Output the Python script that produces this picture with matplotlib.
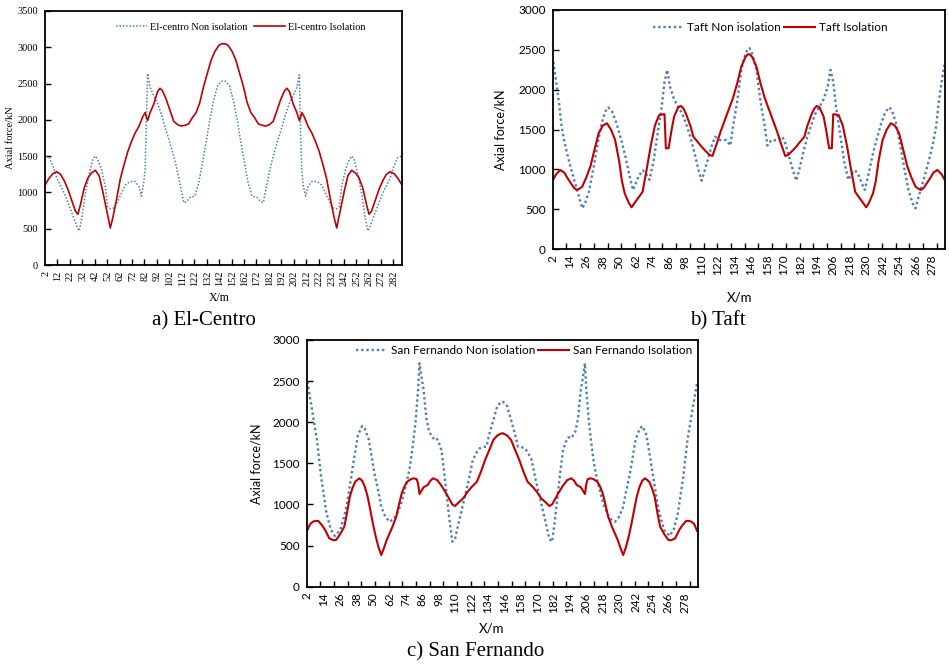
import matplotlib
matplotlib.use("Agg")
import matplotlib.pyplot as plt
from matplotlib.ticker import FixedLocator

BLUE = "#4a7ebb"
RED = "#c00000"

# ---- El-Centro (axial force, kN, along X in m) ----
el_non_x = [2, 5, 8, 11, 14, 17, 20, 24, 27, 29, 31, 34, 37, 40, 42, 44, 47, 50, 52, 54,
            57, 60, 63, 66, 69, 72, 74, 77, 79, 81, 82, 83, 84, 86, 89, 92, 95, 98, 101, 104,
            107, 110, 113, 115, 118, 122, 125, 128, 131, 134, 137, 140, 143, 145,
            147, 150, 153, 156, 159, 162, 165, 168, 172, 175, 177, 180, 183, 186, 189, 192,
            195, 198, 201, 204, 206, 207, 208, 209, 211, 213, 216, 218, 221, 224, 227, 230,
            233, 236, 238, 240, 243, 246, 248, 250, 253, 256, 259, 261, 263, 266, 270, 273,
            276, 279, 282, 285, 288]
el_non_y = [1500, 1480, 1360, 1200, 1090, 990, 860, 680, 540, 470, 640, 990, 1250, 1460, 1500, 1450, 1310, 1080, 800, 775,
            785, 880, 990, 1100, 1140, 1155, 1150, 1080, 950, 1150, 1310, 2000, 2640, 2450, 2330, 2230, 2080, 1900, 1740, 1560,
            1370, 1120, 860, 870, 930, 950, 1120, 1400, 1690, 2000, 2260, 2460, 2530, 2535,
            2530, 2460, 2260, 2000, 1690, 1400, 1120, 950, 930, 870, 860, 1120, 1370, 1560, 1740, 1900,
            2080, 2230, 2330, 2450, 2620, 1800, 1310, 1100, 950, 1080, 1150, 1155, 1140, 1100, 990, 880,
            785, 775, 800, 1080, 1310, 1450, 1500, 1460, 1250, 990, 640, 470, 540, 680, 860, 990,
            1090, 1200, 1360, 1480, 1500]

el_iso_x = [2, 5, 8, 11, 14, 17, 20, 23, 26, 28, 30, 33, 36, 39, 42, 45, 48, 51, 54, 56,
            59, 62, 65, 68, 71, 74, 77, 80, 82, 83, 84, 86, 89, 92, 94, 96, 99, 102, 105, 108,
            111, 114, 117, 120, 123, 126, 129, 132, 135, 138, 141, 143, 145,
            147, 149, 152, 155, 158, 161, 164, 167, 170, 173, 176, 179, 182, 185, 188, 191,
            194, 196, 198, 201, 204, 206, 207, 208, 210, 213, 216, 219, 222, 225, 228, 231,
            234, 236, 239, 242, 245, 248, 251, 254, 257, 260, 262, 264, 267, 270, 273, 276,
            279, 282, 285, 288]
el_iso_y = [1116, 1200, 1260, 1286, 1250, 1160, 1040, 890, 740, 700, 830, 1060, 1200, 1270, 1305, 1230, 1010, 760, 510, 650,
            900, 1180, 1380, 1560, 1700, 1820, 1910, 2040, 2100, 2040, 1990, 2100, 2220, 2390, 2435, 2400, 2280, 2130, 1980, 1935,
            1915, 1925, 1945, 2030, 2100, 2240, 2460, 2640, 2820, 2940, 3020, 3045, 3048,
            3045, 3020, 2940, 2820, 2640, 2460, 2240, 2100, 2030, 1945, 1925, 1915, 1935, 1980, 2130, 2280,
            2400, 2435, 2390, 2220, 2100, 1990, 2040, 2100, 2040, 1910, 1820, 1700, 1560, 1380, 1180, 900,
            650, 510, 760, 1010, 1230, 1305, 1270, 1200, 1060, 830, 700, 740, 890, 1040, 1160, 1250,
            1286, 1260, 1200, 1116]

# ---- Taft ----
taft_non_x = [2, 4, 6, 8, 10, 12, 15, 18, 21, 23, 25, 28, 31, 34, 37, 40, 42, 45, 48, 51,
              54, 57, 60, 62, 64, 67, 69, 72, 75, 78, 81, 83, 85, 87, 90, 93, 96, 99, 102, 105,
              108, 110, 112, 115, 118, 120, 123, 126, 128, 131, 133, 136, 139, 142, 144,
              145, 147, 150, 153, 156, 158, 161, 163, 166, 169, 171, 174, 177, 179, 181, 184,
              187, 190, 193, 196, 199, 202, 204, 206, 208, 211, 214, 217, 220, 222, 225, 227,
              229, 232, 235, 238, 241, 244, 247, 249, 252, 255, 258, 261, 264, 266, 268, 271,
              274, 277, 279, 281, 283, 285, 287]
taft_non_y = [2350, 2100, 1850, 1540, 1350, 1200, 1000, 820, 640, 513, 570, 730, 1000, 1290, 1570, 1730, 1780, 1720, 1580, 1400,
              1200, 960, 743, 820, 910, 990, 960, 870, 1100, 1450, 1790, 2100, 2249, 2039, 1880, 1788, 1700, 1560, 1400, 1200,
              980, 860, 970, 1150, 1330, 1410, 1370, 1365, 1370, 1300, 1550, 1850, 2250, 2450, 2521,
              2521, 2450, 2250, 1850, 1550, 1300, 1370, 1365, 1370, 1410, 1330, 1150, 970, 860, 980, 1200,
              1400, 1560, 1700, 1788, 1880, 2039, 2249, 2100, 1790, 1450, 1100, 870, 960, 990, 910, 820,
              743, 960, 1200, 1400, 1580, 1720, 1780, 1730, 1570, 1290, 1000, 730, 570, 513, 640, 820,
              1000, 1200, 1350, 1540, 1850, 2100, 2310]

taft_iso_x = [2, 4, 7, 10, 12, 14, 17, 19, 21, 23, 26, 29, 32, 35, 38, 41, 44, 47, 50, 52,
              54, 57, 59, 62, 65, 67, 70, 73, 76, 79, 82, 83, 84, 86, 88, 90, 93, 95, 97, 99,
              102, 104, 107, 110, 113, 116, 118, 121, 124, 127, 130, 133, 136, 139, 142, 144,
              145, 147, 150, 153, 156, 159, 162, 165, 168, 171, 173, 176, 179, 182, 185, 187,
              190, 192, 194, 196, 199, 201, 203, 205, 206, 207, 210, 213, 216, 219, 222, 224,
              227, 230, 232, 235, 237, 239, 242, 245, 248, 251, 254, 257, 260, 263, 266, 268,
              270, 272, 275, 277, 279, 282, 285, 287]
taft_iso_y = [877, 940, 994, 960, 900, 847, 770, 743, 760, 784, 900, 1040, 1250, 1454, 1550, 1580, 1500, 1370, 1100, 850,
              700, 580, 526, 600, 670, 720, 1000, 1300, 1550, 1680, 1693, 1693, 1266, 1266, 1480, 1663, 1780, 1797, 1760, 1684,
              1540, 1412, 1350, 1286, 1230, 1180, 1170, 1320, 1480, 1620, 1760, 1900, 2080, 2290, 2410, 2446,
              2446, 2410, 2290, 2080, 1900, 1760, 1620, 1480, 1320, 1170, 1180, 1230, 1286, 1350, 1412, 1540,
              1684, 1760, 1797, 1780, 1663, 1480, 1266, 1266, 1693, 1693, 1680, 1550, 1300, 1000, 720, 670,
              600, 526, 580, 700, 850, 1100, 1370, 1500, 1580, 1550, 1454, 1250, 1040, 900, 784, 760,
              743, 770, 847, 900, 960, 994, 940, 877]

# ---- San Fernando ----
sf_non_x = [2, 5, 9, 12, 16, 19, 22, 26, 29, 31, 34, 36, 39, 42, 44, 47, 51, 54, 56, 59,
            62, 65, 67, 70, 72, 75, 77, 79, 81, 83, 84, 85, 87, 89, 91, 94, 96, 98, 100, 102,
            104, 106, 108, 110, 112, 114, 116, 120, 123, 126, 128, 131, 133, 135, 138, 141, 144,
            145, 148, 151, 154, 156, 158, 161, 163, 166, 169, 173, 175, 177, 179, 181, 183,
            185, 187, 189, 191, 193, 195, 198, 200, 202, 204, 205, 206, 208, 210, 212, 214,
            217, 219, 222, 224, 227, 230, 233, 235, 238, 242, 245, 247, 250, 253, 255, 258,
            260, 263, 267, 270, 273, 277, 280, 284, 287]
sf_non_y = [2493, 2189, 1784, 1338, 893, 700, 617, 689, 860, 1014, 1330, 1541, 1845, 1954, 1920, 1784, 1379, 1150, 973, 850,
            790, 820, 872, 980, 1094, 1300, 1459, 1700, 1987, 2400, 2717, 2600, 2392, 2050, 1885, 1805, 1817, 1760, 1662, 1400,
            1100, 800, 547, 580, 730, 870, 1014, 1297, 1541, 1640, 1683, 1700, 1702, 1850, 2027, 2200, 2250,
            2250, 2200, 2027, 1850, 1702, 1700, 1683, 1640, 1541, 1297, 1014, 870, 730, 580, 547, 800,
            1100, 1400, 1662, 1760, 1817, 1805, 1885, 2050, 2392, 2600, 2717, 2400, 1987, 1700, 1459, 1300,
            1094, 980, 872, 820, 790, 850, 973, 1150, 1379, 1784, 1920, 1954, 1845, 1541, 1330, 1014,
            860, 689, 617, 700, 893, 1338, 1784, 2189, 2473]

sf_iso_x = [2, 4, 6, 8, 10, 13, 15, 18, 21, 23, 26, 29, 31, 33, 35, 37, 40, 42, 44, 46,
            48, 50, 52, 54, 56, 58, 60, 64, 67, 69, 71, 73, 75, 78, 80, 82, 83, 84, 87, 90,
            92, 94, 97, 100, 103, 106, 108, 110, 113, 116, 119, 122, 126, 129, 132, 135, 138, 141, 144,
            145, 148, 151, 154, 157, 160, 163, 167, 170, 173, 176, 179, 181, 183, 186, 189,
            192, 195, 197, 199, 202, 205, 206, 207, 209, 211, 214, 216, 218, 220, 222, 225,
            229, 231, 233, 235, 237, 239, 241, 243, 245, 247, 249, 252, 254, 256, 258, 260,
            263, 266, 268, 271, 274, 276, 279, 281, 283, 285, 287]
sf_iso_y = [689, 760, 790, 800, 799, 740, 689, 588, 565, 568, 640, 730, 900, 1094, 1200, 1277, 1318, 1290, 1216, 1100,
            933, 760, 608, 480, 385, 470, 568, 720, 851, 1000, 1136, 1220, 1277, 1310, 1318, 1306, 1250, 1127, 1209, 1237,
            1290, 1318, 1295, 1230, 1150, 1060, 1000, 981, 1030, 1075, 1150, 1210, 1277, 1400, 1541, 1660, 1784, 1840, 1865,
            1865, 1840, 1784, 1660, 1541, 1400, 1277, 1210, 1150, 1075, 1030, 981, 1000, 1060, 1150, 1230,
            1295, 1318, 1290, 1237, 1209, 1127, 1250, 1306, 1318, 1310, 1277, 1220, 1136, 1000, 851, 720,
            568, 470, 385, 480, 608, 760, 933, 1100, 1216, 1290, 1318, 1277, 1200, 1094, 900, 730,
            640, 568, 565, 588, 689, 740, 799, 800, 790, 760, 680]

SERIF = "Liberation Serif"
SANS = "Lato"


def draw_panel(ax, x_non, y_non, x_iso, y_iso, names, xmax, ymax, label_step,
               family, fs, lw, leg_pos, legend_kw):
    ax.plot(x_non, y_non, color=BLUE, ls=(0, (1, 1.2)), lw=lw[0], label=names[0])
    ax.plot(x_iso, y_iso, color=RED, lw=lw[1], label=names[1])
    ax.set_xlim(1.5, xmax + 0.5)
    ax.set_ylim(0, ymax)
    ax.set_yticks(range(0, ymax + 1, 500))
    labels = list(range(2, xmax, label_step))
    ax.xaxis.set_major_locator(FixedLocator(labels))
    ax.set_xticklabels([str(v) for v in labels], rotation=90, family=family, fontsize=fs)
    # tick marks sit between categories, every 10
    ax.xaxis.set_minor_locator(FixedLocator([1.5 + 10 * k for k in range(1, int(xmax / 10) + 1)]))
    ax.tick_params(axis="x", which="major", length=0, pad=4)
    ax.tick_params(axis="x", which="minor", direction="in", length=4, width=1)
    ax.tick_params(axis="y", direction="in", length=4, width=1, pad=5)
    for t in ax.get_yticklabels():
        t.set_family(family)
        t.set_fontsize(fs)
    for s in ax.spines.values():
        s.set_linewidth(1.3)
        s.set_color("black")
    leg = ax.legend(loc="center", bbox_to_anchor=leg_pos, ncol=2, frameon=False,
                    prop={"family": family, "size": fs}, **legend_kw)
    return leg


fig = plt.figure(figsize=(9.49, 6.66), dpi=100)

# a) El-Centro
ax_a = fig.add_axes([0.0474, 0.6021, 0.3762, 0.3814])
draw_panel(ax_a, el_non_x, el_non_y, el_iso_x, el_iso_y,
           ["El-centro Non isolation", "El-centro Isolation"], 288, 3500, 10,
           SERIF, 7.5, (1.1, 1.2), (0.549, 0.937),
           dict(handlelength=3.0, handletextpad=0.3, columnspacing=0.6))
ax_a.set_ylabel("Axial force/kN", family=SERIF, fontsize=7.5)
ax_a.yaxis.set_label_coords(-0.084, 0.5)
ax_a.set_xlabel("X/m", family=SERIF, fontsize=8.5, va="center")
ax_a.xaxis.set_label_coords(0.487, -0.13)

# b) Taft
ax_b = fig.add_axes([0.5824, 0.6258, 0.4134, 0.3592])
draw_panel(ax_b, taft_non_x, taft_non_y, taft_iso_x, taft_iso_y,
           ["Taft Non isolation", "Taft Isolation"], 287, 3000, 12,
           SANS, 8.5, (1.7, 1.5), (0.554, 0.925),
           dict(handlelength=2.6, handletextpad=0.3, columnspacing=0.3))
ax_b.set_ylabel("Axial force/kN", family=SANS, fontsize=9)
ax_b.yaxis.set_label_coords(-0.1165, 0.5)
ax_b.set_xlabel("X/m", family=SANS, fontsize=9.5, va="center")
ax_b.xaxis.set_label_coords(0.477, -0.2)

# c) San Fernando
ax_c = fig.add_axes([0.3232, 0.1191, 0.4120, 0.3704])
draw_panel(ax_c, sf_non_x, sf_non_y, sf_iso_x, sf_iso_y,
           ["San Fernando Non isolation", "San Fernando Isolation"], 287, 3000, 12,
           SANS, 8.5, (1.7, 1.5), (0.556, 0.957),
           dict(handlelength=2.6, handletextpad=0.3, columnspacing=0.3))
ax_c.set_ylabel("Axial force/kN", family=SANS, fontsize=9)
ax_c.yaxis.set_label_coords(-0.114, 0.5)
ax_c.set_xlabel("X/m", family=SANS, fontsize=9.5, va="center")
ax_c.xaxis.set_label_coords(0.474, -0.17)

# captions
fig.text(204 / 949, 1 - 321 / 666, "a) El-Centro", family=SERIF, fontsize=15, ha="center", va="center")
fig.text(718 / 949, 1 - 321 / 666, "b) Taft", family=SERIF, fontsize=15, ha="center", va="center")
fig.text(476 / 949, 1 - 652 / 666, "c) San Fernando", family=SERIF, fontsize=15, ha="center", va="center")

fig.savefig("out.png", dpi=100)
